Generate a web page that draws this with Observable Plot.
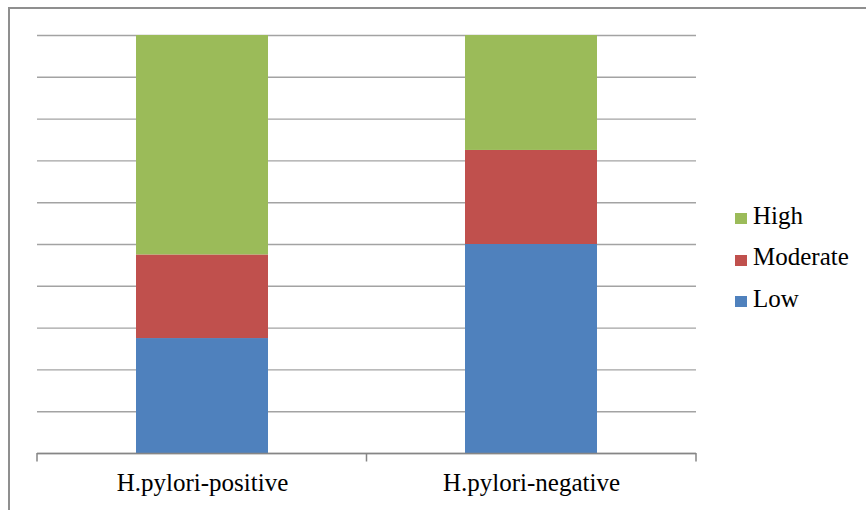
<!DOCTYPE html>
<html>
<head>
<meta charset="utf-8">
<script src="https://cdn.jsdelivr.net/npm/d3@7"></script>
<script src="https://cdn.jsdelivr.net/npm/@observablehq/plot@0.6"></script>
<style>
  body { margin: 0; background: #fff; }
  #wrap { position: relative; width: 866px; height: 510px; overflow: hidden;
          font-family: "Liberation Serif", "Times New Roman", serif; }
  #frame { position: absolute; left: 8px; top: 7px; width: 900px; height: 600px;
           border-left: 2px solid #8f8f8f; border-top: 2px solid #8f8f8f; }
  #chart { position: absolute; left: 0; top: 0; }
  .sw { position: absolute; width: 12px; height: 11px; }
  .lt { position: absolute; font-size: 25px; line-height: 28px; color: #000; white-space: nowrap;
        font-family: "Liberation Serif", "Times New Roman", serif; }
</style>
</head>
<body>
<div id="wrap">
  <div id="frame"></div>
  <div id="chart"></div>
  <div id="legend"></div>
</div>
<script>
// Share (%) of each activity level within each H. pylori group
const groups = ["H.pylori-positive", "H.pylori-negative"];
const levels = ["Low", "Moderate", "High"];
const lowPct = [27.5, 50];
const moderatePct = [20, 22.5];
const highPct = [52.5, 27.5];
const colors = ["#4F81BD", "#C0504D", "#9BBB59"];
const gridTicks = d3.range(0, 101, 10);

const series = [lowPct, moderatePct, highPct];
const rows = groups.flatMap((g, i) =>
  levels.map((lv, j) => ({ group: g, level: lv, value: series[j][i] }))
);

// Small downward ticks at the category boundaries of the x axis
function boundaryTicks(index, scales, values, dimensions) {
  const { width, height, marginLeft, marginRight, marginBottom } = dimensions;
  const x0 = marginLeft, x1 = width - marginRight, y0 = height - marginBottom;
  const xs = d3.range(groups.length + 1).map(i => x0 + i * (x1 - x0) / groups.length);
  const g = d3.create("svg:g").attr("stroke", "#868686").attr("stroke-width", 1.5);
  for (const x of xs) {
    g.append("line").attr("x1", x).attr("x2", x).attr("y1", y0).attr("y2", y0 + 8.5);
  }
  return g.node();
}

const chart = Plot.plot({
  width: 866,
  height: 510,
  marginLeft: 37,
  marginRight: 170,
  marginTop: 35,
  marginBottom: 57,
  style: { fontFamily: "'Liberation Serif', 'Times New Roman', serif", fontSize: "25px",
           background: "transparent", color: "#000" },
  x: { domain: groups, paddingInner: 0.6, paddingOuter: 0.3, label: null,
       tickSize: 0, tickPadding: 20 },
  y: { domain: [0, 100], axis: null },
  color: { domain: levels, range: colors },
  marks: [
    Plot.ruleY(gridTicks, { stroke: "#a3a3a3", strokeWidth: 1.4 }),
    Plot.barY(rows, { x: "group", y: "value", fill: "level" }),
    Plot.ruleY([0], { stroke: "#868686", strokeWidth: 1.5 }),
    boundaryTicks
  ]
});
document.getElementById("chart").appendChild(chart);

// Legend, listed top to bottom as High, Moderate, Low
const legend = document.getElementById("legend");
const order = levels.map((lv, i) => ({ lv, c: colors[i] })).reverse();
order.forEach((d, k) => {
  const top = 213 + k * 41.5;
  const sw = document.createElement("div");
  sw.className = "sw";
  sw.style.left = "735px";
  sw.style.top = top + "px";
  sw.style.background = d.c;
  legend.appendChild(sw);
  const t = document.createElement("div");
  t.className = "lt";
  t.style.left = "753px";
  t.style.top = (top + 11 - 22.3) + "px";
  t.textContent = d.lv;
  legend.appendChild(t);
});
</script>
</body>
</html>
